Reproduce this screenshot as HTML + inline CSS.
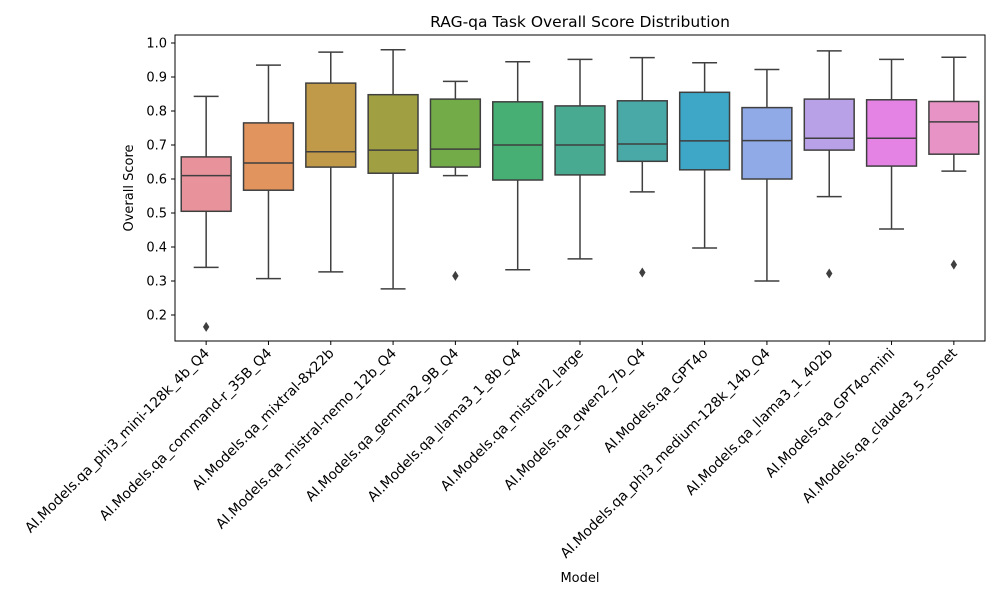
<!DOCTYPE html>
<html><head><meta charset="utf-8"><style>
body{margin:0;background:#fff;font-family:"Liberation Sans","DejaVu Sans",sans-serif;}
</style></head><body>
<svg id="chart" width="1000" height="600" xmlns="http://www.w3.org/2000/svg" font-family="'DejaVu Sans','Liberation Sans',sans-serif">
<rect width="1000" height="600" fill="#fff"/>
<text x="580" y="27" font-size="15.5" text-anchor="middle">RAG-qa Task Overall Score Distribution</text>
<g id="marks"></g>
<rect x="175" y="35" width="810" height="306" fill="none" stroke="#000" stroke-width="1"/>
<text transform="translate(133,188) rotate(-90)" font-size="13" text-anchor="middle">Overall Score</text>
<text x="580" y="582" font-size="13" text-anchor="middle">Model</text>
</svg>
<script>
const models=["AI.Models.qa_phi3_mini-128k_4b_Q4","AI.Models.qa_command-r_35B_Q4","AI.Models.qa_mixtral-8x22b","AI.Models.qa_mistral-nemo_12b_Q4","AI.Models.qa_gemma2_9B_Q4","AI.Models.qa_llama3_1_8b_Q4","AI.Models.qa_mistral2_large","AI.Models.qa_qwen2_7b_Q4","AI.Models.qa_GPT4o","AI.Models.qa_phi3_medium-128k_14b_Q4","AI.Models.qa_llama3_1_402b","AI.Models.qa_GPT4o-mini","AI.Models.qa_claude3_5_sonet"];
const whiskerLow=[0.34,0.307,0.327,0.277,0.61,0.333,0.365,0.562,0.397,0.3,0.548,0.453,0.623];
const q1=[0.505,0.567,0.635,0.617,0.635,0.597,0.612,0.652,0.627,0.6,0.685,0.638,0.673];
const median=[0.61,0.647,0.68,0.685,0.688,0.7,0.7,0.703,0.712,0.713,0.72,0.72,0.768];
const q3=[0.665,0.765,0.882,0.848,0.835,0.827,0.815,0.83,0.855,0.81,0.835,0.833,0.828];
const whiskerHigh=[0.843,0.935,0.973,0.98,0.887,0.945,0.952,0.957,0.942,0.922,0.977,0.952,0.958];
const outliers=[[0.165],[],[],[],[0.315],[],[],[0.325],[],[],[0.322],[],[0.348]];
const yTicks=[0.2,0.3,0.4,0.5,0.6,0.7,0.8,0.9,1.0];
const colors=["#e8939c","#e2945e","#c09a48","#a0a043","#72ab47","#47ae74","#47aa91","#49a9a6","#3ea6c6","#8faae6","#b9a1e8","#e483e4","#e893c5"];
const NS="http://www.w3.org/2000/svg";
const L=175,R=985,band=(R-L)/models.length;
const x=i=>L+band*(i+0.5);
const y=v=>43+(1.0-v)*340;
const g=document.getElementById('marks');
function mk(t,a){const e=document.createElementNS(NS,t);for(const k in a)e.setAttribute(k,a[k]);g.appendChild(e);return e;}
const ln="#3f3f3f";
yTicks.forEach(v=>{
 const t=mk('line',{x1:171,x2:175,y1:y(v),y2:y(v),stroke:'#000'});
 
 
 const s=mk('text',{x:167,y:y(v)+4.5,'font-size':13,'text-anchor':'end'});s.textContent=v.toFixed(1);
 
 
});
models.forEach((m,i)=>{
 const cx=x(i),w=band*0.8;
 const wl=mk('line',{x1:cx,x2:cx,y1:y(whiskerLow[i]),y2:y(q1[i]),stroke:ln,'stroke-width':1.5});
 
 
 const wh=mk('line',{x1:cx,x2:cx,y1:y(q3[i]),y2:y(whiskerHigh[i]),stroke:ln,'stroke-width':1.5});
 
 
 [whiskerLow[i],whiskerHigh[i]].forEach(v=>{const c=mk('line',{x1:cx-w/4,x2:cx+w/4,y1:y(v),y2:y(v),stroke:ln,'stroke-width':1.5});
  
  });
 const b=mk('rect',{x:cx-w/2,y:y(q3[i]),width:w,height:y(q1[i])-y(q3[i]),fill:colors[i],stroke:ln,'stroke-width':1.5});
 
 
 const md=mk('line',{x1:cx-w/2,x2:cx+w/2,y1:y(median[i]),y2:y(median[i]),stroke:ln,'stroke-width':1.5});
 
 
 outliers[i].forEach(v=>{const cy=y(v);const o=mk('path',{d:`M${cx} ${cy-5}L${cx+3.2} ${cy}L${cx} ${cy+5}L${cx-3.2} ${cy}Z`,fill:ln});
  
  });
 const t=mk('line',{x1:cx,x2:cx,y1:341,y2:345,stroke:'#000'});
 
 
 const s=mk('text',{transform:`translate(${cx+4},${354}) rotate(-45)`,'font-size':13.9,'text-anchor':'end'});s.textContent=m;
 
 
});
</script>
</body></html>
